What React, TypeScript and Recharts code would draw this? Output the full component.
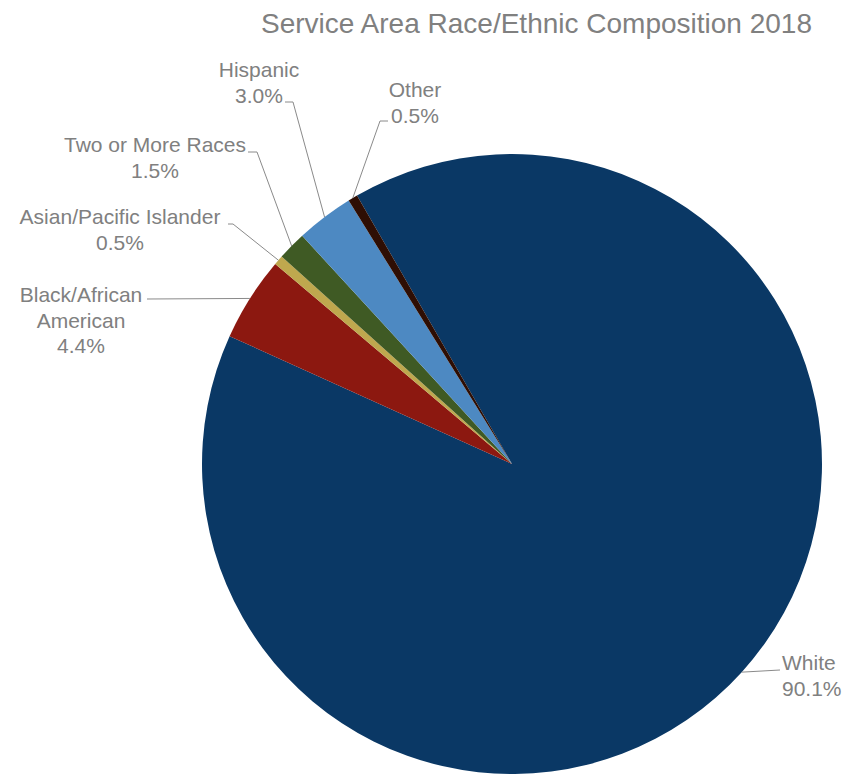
import { PieChart, Pie, Cell } from "recharts";

const groups = ["White", "Black/African American", "Asian/Pacific Islander", "Two or More Races", "Hispanic", "Other"];
const shares = [90.1, 4.4, 0.5, 1.5, 3.0, 0.5];
const colors = ["#0a3865", "#8c1810", "#bfa84e", "#3f5a24", "#4d89c2", "#2e0e04"];

const data = groups.map((name, i) => ({ name, value: shares[i] }));

// label placement (chart coords), leader goes arc -> path points
const labelLayout = [
  { lines: ["White"], x: 782, y: 670, anchor: "start", path: [[780, 670]] },
  { lines: ["Black/African", "American"], x: 81, y: 302, anchor: "middle", path: [[147, 299]] },
  { lines: ["Asian/Pacific Islander"], x: 120, y: 224, anchor: "middle", path: [[233, 224], [228, 224]] },
  { lines: ["Two or More Races"], x: 155, y: 152, anchor: "middle", path: [[257, 152], [248, 152]] },
  { lines: ["Hispanic"], x: 259, y: 77, anchor: "middle", path: [[293, 102], [285, 102]] },
  { lines: ["Other"], x: 415, y: 97, anchor: "middle", path: [[380, 121], [388, 121]] },
];

const RADIAN = Math.PI / 180;
const FONT = "'Liberation Sans', Arial, sans-serif";
const GRAY = "#808080";

function renderLabel(props: any) {
  const { cx, cy, midAngle, outerRadius, index, value } = props;
  const lay = labelLayout[index];
  const sx = cx + outerRadius * Math.cos(-midAngle * RADIAN);
  const sy = cy + outerRadius * Math.sin(-midAngle * RADIAN);
  const pts = [[sx, sy], ...lay.path].map((p) => p.join(",")).join(" ");
  const lines = [...lay.lines, `${Number(value).toFixed(1)}%`];
  return (
    <g key={`lbl-${index}`}>
      <polyline points={pts} fill="none" stroke="#8a8a8a" strokeWidth={1} />
      <text x={lay.x} y={lay.y} textAnchor={lay.anchor} fill={GRAY} fontSize={21} fontFamily={FONT}>
        {lines.map((t, i) => (
          <tspan key={i} x={lay.x} dy={i === 0 ? 0 : 25.5}>
            {t}
          </tspan>
        ))}
      </text>
    </g>
  );
}

export default function App() {
  return (
    <div style={{ position: "absolute", left: 0, top: 0, width: 844, height: 776, background: "#fff" }}>
      <div
        style={{
          position: "absolute",
          left: 0,
          width: 1073,
          top: 8,
          textAlign: "center",
          fontFamily: FONT,
          fontSize: 28,
          color: GRAY,
          lineHeight: "32px",
          whiteSpace: "nowrap",
        }}
      >
        Service Area Race/Ethnic Composition 2018
      </div>
      <PieChart
        width={844}
        height={776}
        margin={{ top: 0, right: 0, bottom: 0, left: 0 }}
        style={{ position: "absolute", left: 0, top: 0 }}
      >
        <Pie
          data={data}
          dataKey="value"
          nameKey="name"
          cx={512}
          cy={464}
          outerRadius={310}
          startAngle={120}
          endAngle={-240}
          stroke="none"
          label={renderLabel}
          labelLine={false}
          isAnimationActive={false}
        >
          {data.map((d, i) => (
            <Cell key={d.name} fill={colors[i]} />
          ))}
        </Pie>
      </PieChart>
    </div>
  );
}
